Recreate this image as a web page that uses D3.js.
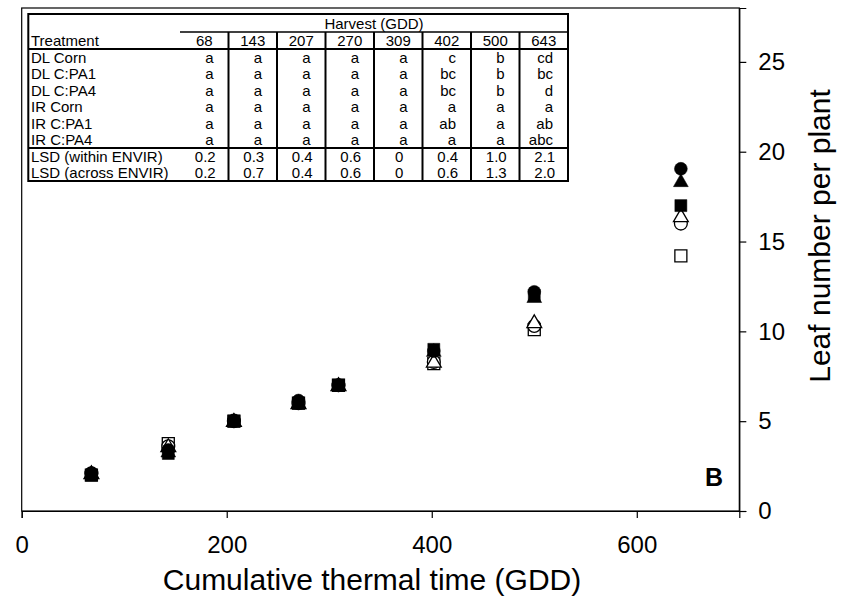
<!DOCTYPE html>
<html><head><meta charset="utf-8">
<script src="https://cdn.jsdelivr.net/npm/d3@7"></script>
<style>html,body{margin:0;padding:0;background:#fff}svg{display:block}text{font-family:"Liberation Sans",Arial,sans-serif;fill:#000}</style>
</head><body><svg id="c" width="842" height="598"></svg>
<script>
const harvests = [68, 143, 207, 270, 309, 402, 500, 643];
const treatments = ["DL Corn", "DL C:PA1", "DL C:PA4", "IR Corn", "IR C:PA1", "IR C:PA4"];
const markers = ["circle-filled", "triangle-filled", "square-filled", "circle-open", "triangle-open", "square-open"];
const leafDLCorn  = [2.1, 3.4, 5.05, 6.15, 7.0, 8.9, 12.2, 19.05];
const leafDLCPA1  = [2.1, 3.3, 5.0, 6.0, 7.0, 8.9, 11.9, 18.35];
const leafDLCPA4  = [2.0, 3.2, 5.0, 6.0, 7.0, 9.0, 12.0, 17.0];
const leafIRCorn  = [2.1, 3.6, 5.0, 6.0, 7.0, 8.3, 10.3, 16.0];
const leafIRCPA1  = [2.1, 3.6, 5.0, 6.0, 7.0, 8.3, 10.5, 16.4];
const leafIRCPA4  = [2.0, 3.75, 5.0, 6.0, 7.0, 8.2, 10.1, 14.2];
const lettersDLCorn = ["a","a","a","a","a","c","b","cd"];
const lettersDLCPA1 = ["a","a","a","a","a","bc","b","bc"];
const lettersDLCPA4 = ["a","a","a","a","a","bc","b","d"];
const lettersIRCorn = ["a","a","a","a","a","a","a","a"];
const lettersIRCPA1 = ["a","a","a","a","a","ab","a","ab"];
const lettersIRCPA4 = ["a","a","a","a","a","a","a","abc"];
const lsdWithin = ["0.2","0.3","0.4","0.6","0","0.4","1.0","2.1"];
const lsdAcross = ["0.2","0.7","0.4","0.6","0","0.6","1.3","2.0"];
const xTicks = [0, 200, 400, 600];
const yTicks = [0, 5, 10, 15, 20, 25];

const series = [leafDLCorn, leafDLCPA1, leafDLCPA4, leafIRCorn, leafIRCPA1, leafIRCPA4];
const letters = [lettersDLCorn, lettersDLCPA1, lettersDLCPA4, lettersIRCorn, lettersIRCPA1, lettersIRCPA4];

const svg = d3.select("#c");
const L = 21.7, R = 739.3, T = 8, B = 511;
const x = d3.scaleLinear().domain([0, 700]).range([L, R]);
const y = d3.scaleLinear().domain([0, 28]).range([B, T]);

// frame
svg.append("rect").attr("x", L).attr("y", T).attr("width", R - L).attr("height", B - T)
  .attr("fill", "none").attr("stroke", "#000").attr("stroke-width", 1.2);

// x axis
const gx = svg.append("g").attr("transform", `translate(0,${B})`)
  .call(d3.axisBottom(x).tickValues(xTicks).tickSize(7).tickPadding(18).tickFormat(d3.format("d")));
gx.select(".domain").attr("stroke-width", 1.2);
gx.selectAll(".tick line").attr("stroke-width", 1.2);
gx.selectAll("text").style("font-size", "24px").style("font-family", "Liberation Sans, Arial, sans-serif");

// y axis right
const gy = svg.append("g").attr("transform", `translate(${R},0)`)
  .call(d3.axisRight(y).tickValues(yTicks).tickSize(7).tickPadding(12).tickFormat(d3.format("d")));
gy.select(".domain").attr("stroke-width", 1.2);
gy.selectAll(".tick line").attr("stroke-width", 1.2);
gy.selectAll("text").style("font-size", "24px").style("font-family", "Liberation Sans, Arial, sans-serif");

// titles
svg.append("text").attr("x", 372).attr("y", 590).attr("text-anchor", "middle")
  .style("font-size", "30px").text("Cumulative thermal time (GDD)");
svg.append("text").attr("transform", "translate(830,236) rotate(-90)").attr("text-anchor", "middle")
  .style("font-size", "30px").text("Leaf number per plant");
svg.append("text").attr("x", 723).attr("y", 486).attr("text-anchor", "end")
  .style("font-size", "25px").style("font-weight", "bold").text("B");

// markers
const order = [5, 3, 4, 2, 1, 0];
const sym = {
  "circle": d3.symbolCircle, "triangle": d3.symbolTriangle, "square": d3.symbolSquare
};
const sizes = {"circle": 130, "triangle": 95, "square": 144};
order.forEach(i => {
  const [shape, kind] = markers[i].split("-");
  const gen = d3.symbol().type(sym[shape]).size(sizes[shape]);
  svg.append("g").selectAll("path").data(series[i].map((v, j) => [harvests[j], v]))
    .enter().append("path")
    .attr("transform", d => `translate(${x(d[0])},${y(d[1]) + (shape === "triangle" ? 1 : 0)})`)
    .attr("d", gen())
    .attr("fill", kind === "filled" ? "#000" : "#fff")
    .attr("stroke", "#000").attr("stroke-width", kind === "filled" ? 0.5 : 1.3);
});

// table
const tL = 28.3, tR = 568, tT = 14, hLine = 32, hdrLine = 49, tB = 181;
const colStart = 180;
const colW = (tR - colStart) / harvests.length;
const nRows = treatments.length + 2;
const rowH = (tB - hdrLine) / nRows;
const tbl = svg.append("g");
tbl.append("rect").attr("x", tL).attr("y", tT).attr("width", tR - tL).attr("height", tB - tT)
  .attr("fill", "#fff").attr("stroke", "#000").attr("stroke-width", 2);
tbl.append("line").attr("x1", colStart).attr("x2", tR).attr("y1", hLine).attr("y2", hLine)
  .attr("stroke", "#000").attr("stroke-width", 1.5);
tbl.append("line").attr("x1", tL).attr("x2", tR).attr("y1", hdrLine).attr("y2", hdrLine)
  .attr("stroke", "#000").attr("stroke-width", 2);
const lsdY = hdrLine + rowH * treatments.length;
tbl.append("line").attr("x1", tL).attr("x2", tR).attr("y1", lsdY).attr("y2", lsdY)
  .attr("stroke", "#000").attr("stroke-width", 2);
harvests.forEach((h, j) => {
  if (j < harvests.length - 1) {
    const xx = colStart + colW * (j + 1);
    tbl.append("line").attr("x1", xx).attr("x2", xx).attr("y1", hLine).attr("y2", tB)
      .attr("stroke", "#000").attr("stroke-width", 2);
  }
});
const fs = "15px";
tbl.append("text").attr("x", (colStart + tR) / 2).attr("y", (tT + hLine) / 2 + 5.5)
  .attr("text-anchor", "middle").style("font-size", fs).text("Harvest (GDD)");
tbl.append("text").attr("x", 31).attr("y", (hLine + hdrLine) / 2 + 5.5).style("font-size", fs).text("Treatment");
harvests.forEach((h, j) => {
  tbl.append("text").attr("x", colStart + colW * (j + 0.5)).attr("y", (hLine + hdrLine) / 2 + 5.5)
    .attr("text-anchor", "middle").style("font-size", fs).text(h);
});
const rowLabels = treatments.concat(["LSD (within ENVIR)", "LSD (across ENVIR)"]);
const rowVals = letters.concat([lsdWithin, lsdAcross]);
rowLabels.forEach((lab, r) => {
  const cy = hdrLine + rowH * (r + 0.5) + 5.5;
  tbl.append("text").attr("x", 31).attr("y", cy).style("font-size", fs).text(lab);
  rowVals[r].forEach((v, j) => {
    const isLetter = r < treatments.length;
    tbl.append("text")
      .attr("x", isLetter ? colStart + colW * (j + 1) - 15 : colStart + colW * (j + 0.5) + 1)
      .attr("y", cy).attr("text-anchor", isLetter ? "end" : "middle")
      .style("font-size", fs).text(v);
  });
});
</script></body></html>
